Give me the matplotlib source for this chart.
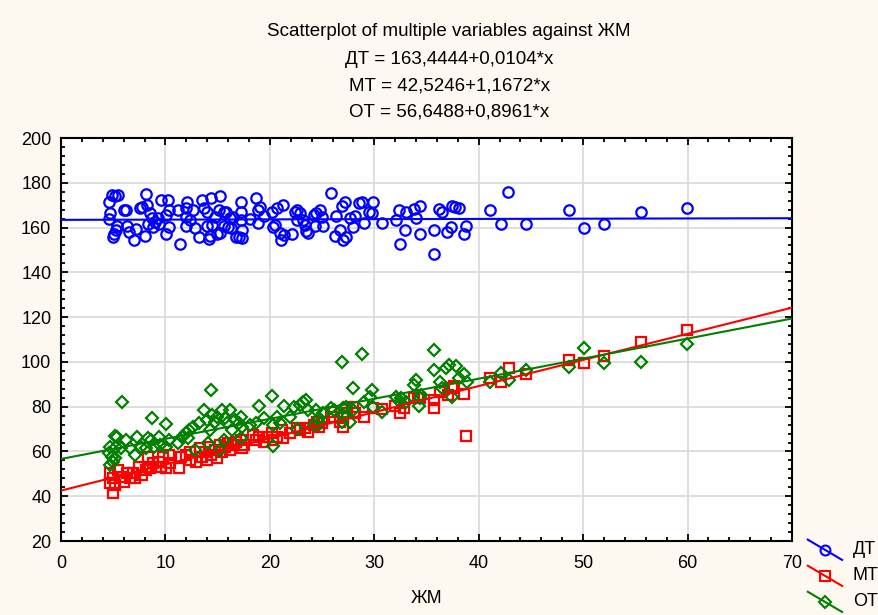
import matplotlib
matplotlib.use("Agg")
import matplotlib.pyplot as plt
from matplotlib.lines import Line2D
from matplotlib.legend_handler import HandlerBase
from matplotlib.ticker import MultipleLocator

# ==========================================================
# Data
# ==========================================================

dt_x = [4.6, 4.9, 5.2, 5.5, 4.7, 4.6, 5.0, 5.1, 5.3, 5.4, 6.0, 6.2, 6.3, 6.5, 7.0, 7.2,
        7.6, 7.8, 8.0, 8.1, 8.2, 8.3, 8.5, 8.7, 8.8, 9.0, 9.3, 9.4, 9.6, 10.2, 10.1, 10.3,
        10.3, 10.1, 11.2, 11.4, 12.0, 12.1, 12.0, 12.0, 12.4, 12.6, 12.8, 13.2, 13.5, 13.7,
        14.0, 14.0, 14.2, 14.3, 14.4, 14.5, 14.7, 14.9, 15.1, 15.2, 15.2, 15.6, 15.6, 15.8,
        16.0, 16.2, 16.3, 16.5, 16.8, 17.0, 17.2, 17.2, 17.2, 17.3, 17.3, 18.1, 18.7, 18.9,
        18.9, 19.1, 19.4, 20.2, 20.3, 20.5, 20.7, 21.0, 21.1, 21.3, 21.4, 22.1, 22.4, 22.6,
        22.6, 22.9, 23.2, 23.4, 23.5, 23.7, 24.2, 24.3, 24.4, 24.8, 25.0, 25.1, 25.9, 26.2,
        26.3, 26.7, 26.9, 27.0, 27.2, 27.3, 27.7, 28.0, 28.2, 28.5, 28.8, 29.0, 29.5, 29.8,
        29.9, 30.7, 32.1, 32.4, 32.5, 32.9, 33.0, 33.8, 34.0, 34.4, 34.4, 35.7, 35.7, 36.2,
        36.5, 37.0, 37.3, 37.4, 37.7, 38.1, 38.6, 38.8, 41.1, 42.1, 42.8, 44.5, 48.6, 50.1,
        52.0, 55.5, 59.9]
dt_y = [171.6, 174.5, 174.1, 174.5, 166.3, 163.7, 155.9, 157.0, 158.9, 160.7, 167.8, 167.8,
        160.7, 158.2, 154.4, 159.2, 168.6, 169.0, 156.2, 175.0, 170.1, 161.6, 166.4, 164.1,
        160.1, 162.6, 164.1, 161.6, 172.3, 172.3, 165.6, 167.8, 160.1, 157.1, 167.8, 152.7,
        168.6, 171.6, 164.6, 160.7, 163.4, 167.8, 159.6, 155.6, 172.3, 168.6, 160.7, 167.1,
        154.7, 156.2, 173.0, 161.1, 164.6, 157.1, 167.8, 174.1, 157.4, 167.1, 160.7, 167.1,
        160.1, 164.1, 159.6, 164.9, 155.9, 155.9, 171.6, 167.1, 163.4, 158.9, 155.2, 163.7,
        173.0, 167.8, 161.9, 169.3, 165.2, 167.1, 160.1, 161.1, 168.6, 157.4, 154.4, 170.1,
        156.7, 157.1, 167.1, 167.8, 163.4, 166.6, 163.4, 161.1, 158.6, 157.4, 165.6, 160.7,
        166.4, 167.8, 164.6, 160.7, 175.3, 156.2, 165.2, 158.9, 169.6, 154.4, 171.6, 155.9,
        164.1, 160.1, 165.2, 171.1, 171.6, 161.9, 167.1, 166.3, 171.6, 161.9, 163.4, 167.8,
        152.7, 158.9, 167.1, 168.1, 164.1, 169.8, 157.1, 158.9, 148.2, 168.1, 167.1, 158.2,
        160.1, 169.8, 169.0, 168.9, 157.1, 160.7, 167.8, 161.6, 176.0, 161.6, 167.8, 159.6,
        161.6, 167.1, 168.9]

mt_x = [5.0, 4.7, 4.7, 5.0, 5.2, 5.5, 5.8, 6.0, 6.3, 6.6, 6.9, 7.1, 7.5, 7.8, 8.1, 8.3,
        8.3, 8.5, 8.8, 9.1, 9.4, 9.6, 9.8, 10.1, 10.3, 10.4, 11.3, 11.5, 12.0, 12.4, 12.4,
        12.9, 13.3, 13.5, 13.8, 14.0, 14.2, 14.4, 14.7, 14.9, 15.2, 15.4, 15.7, 16.0, 16.2,
        16.5, 16.8, 17.2, 17.3, 17.5, 18.4, 18.7, 19.0, 19.4, 19.7, 20.2, 20.3, 20.7, 21.2,
        21.3, 21.9, 22.6, 22.9, 23.4, 23.7, 24.2, 24.7, 25.0, 24.5, 25.9, 26.1, 26.7, 27.0,
        27.0, 27.4, 28.0, 28.2, 29.0, 29.9, 30.7, 32.0, 32.5, 32.8, 33.8, 34.2, 34.4, 35.7,
        35.7, 36.3, 37.1, 37.4, 37.6, 38.6, 38.8, 41.1, 42.1, 42.9, 44.5, 48.6, 50.1, 52.0,
        55.5, 59.9]
mt_y = [41.6, 45.7, 50.2, 48.0, 45.0, 51.7, 48.7, 46.5, 50.2, 48.0, 50.2, 48.0, 53.2, 49.5,
        51.7, 53.2, 57.7, 52.5, 54.7, 53.2, 55.4, 53.2, 57.7, 52.5, 58.4, 54.7, 52.5, 57.7,
        58.4, 56.2, 59.9, 55.4, 61.4, 57.7, 59.9, 56.2, 62.1, 58.4, 60.6, 56.9, 62.9, 59.9,
        62.1, 63.6, 60.6, 62.9, 64.4, 65.1, 61.4, 62.9, 67.3, 65.1, 66.6, 64.4, 66.6, 68.1,
        65.1, 66.6, 69.6, 65.9, 68.1, 70.3, 69.6, 70.3, 68.8, 71.8, 71.1, 72.6, 73.3, 77.8,
        75.5, 73.3, 71.1, 74.8, 77.0, 80.0, 77.0, 75.5, 79.3, 78.8, 80.3, 77.0, 79.3, 83.7,
        85.2, 83.7, 83.0, 79.3, 86.7, 85.2, 88.2, 89.2, 85.5, 66.9, 92.6, 91.2, 97.1, 94.6,
        100.8, 99.6, 102.6, 109.0, 114.2]

ot_x = [5.8, 5.2, 5.4, 4.7, 4.6, 4.9, 5.0, 4.7, 5.2, 5.3, 5.7, 6.2, 6.6, 7.1, 7.3, 7.7,
        8.1, 8.3, 8.7, 8.6, 8.9, 9.4, 9.5, 10.1, 10.3, 10.1, 11.2, 11.6, 12.0, 12.3, 12.2,
        12.8, 12.6, 13.2, 13.7, 14.0, 14.3, 14.1, 14.4, 14.5, 14.7, 14.9, 15.2, 15.4, 15.6,
        15.7, 15.9, 16.2, 16.4, 16.7, 17.0, 17.2, 17.2, 17.3, 18.1, 18.7, 19.0, 19.4, 20.2,
        20.3, 20.3, 20.7, 21.0, 21.4, 21.9, 22.3, 22.6, 22.9, 23.2, 23.5, 23.7, 26.9, 28.8,
        28.0, 29.8, 29.6, 29.0, 24.4, 25.9, 26.1, 27.0, 27.3, 28.0, 27.0, 26.9, 27.7, 24.2,
        24.8, 24.7, 25.1, 29.9, 30.7, 32.1, 32.5, 32.6, 33.0, 33.8, 34.0, 34.3, 34.5, 34.4,
        35.7, 35.7, 36.3, 36.5, 36.9, 37.2, 37.4, 37.8, 38.1, 38.6, 38.9, 41.1, 42.1, 42.9,
        44.5, 48.6, 50.1, 52.0, 55.5, 59.9]
ot_y = [82.2, 66.9, 66.6, 62.1, 59.1, 57.7, 55.4, 53.9, 56.9, 62.1, 61.4, 65.1, 61.4, 58.4,
        66.3, 62.1, 61.4, 65.9, 74.8, 65.1, 62.1, 66.6, 62.9, 72.2, 65.1, 62.1, 63.6, 66.6,
        68.1, 69.6, 65.9, 60.6, 71.1, 72.6, 78.5, 74.0, 69.6, 63.6, 87.4, 76.3, 73.3, 75.5,
        60.6, 78.5, 65.1, 74.8, 72.6, 78.5, 69.6, 74.0, 72.6, 75.5, 65.9, 71.1, 71.8, 72.6,
        80.3, 74.8, 84.8, 62.4, 71.8, 75.5, 72.6, 80.3, 75.2, 80.0, 69.9, 80.7, 82.2, 83.0,
        78.5, 100.1, 103.5, 88.2, 87.4, 84.5, 82.2, 78.5, 79.3, 78.5, 79.3, 80.0, 78.5, 76.3,
        73.3, 73.3, 71.8, 72.6, 74.8, 77.0, 79.7, 77.8, 84.5, 82.2, 83.7, 82.2, 89.7, 91.9,
        80.3, 85.2, 83.7, 105.3, 96.4, 91.2, 88.2, 97.1, 98.6, 84.5, 98.2, 92.6, 94.6, 91.2,
        91.2, 94.9, 91.9, 96.4, 97.9, 106.0, 99.6, 99.8, 108.0]

# regression coefficients shown in the header
fits = {
    "ДТ": (163.4444, 0.0104),
    "МТ": (42.5246, 1.1672),
    "ОТ": (56.6488, 0.8961),
}
fit_text = {
    "ДТ": "ДТ = 163,4444+0,0104*x",
    "МТ": "МТ = 42,5246+1,1672*x",
    "ОТ": "ОТ = 56,6488+0,8961*x",
}

colors = {"ДТ": "#0000FF", "МТ": "#FF0000", "ОТ": "#008000"}
markers = {"ДТ": "o", "МТ": "s", "ОТ": "D"}
msize = {"ДТ": 7.5, "МТ": 7.5, "ОТ": 6}

x_line = [0, 70]

# ==========================================================
# Custom legend: diagonal line with a marker
# ==========================================================

class DiagHandler(HandlerBase):
    def create_artists(self, legend, orig_handle, xdescent, ydescent,
                       width, height, fontsize, trans):
        x0 = -xdescent
        x1 = -xdescent + width
        y0 = -ydescent + height * 1.1
        y1 = -ydescent - height * 0.5
        ln = Line2D([x0, x1], [y0, y1], color=orig_handle.get_color(),
                    lw=1.5, transform=trans)
        mk = Line2D([(x0 + x1) / 2], [(y0 + y1) / 2],
                    marker=orig_handle.get_marker(),
                    markersize=orig_handle.get_markersize() * 0.95,
                    mfc="none", mec=orig_handle.get_color(), mew=1.5,
                    linestyle="none", transform=trans)
        return [ln, mk]

# ==========================================================
# Plot
# ==========================================================

plt.rcParams["font.family"] = ["Liberation Sans", "DejaVu Sans"]
plt.rcParams["font.size"] = 13

fig = plt.figure(figsize=(8.79, 6.15), dpi=100, facecolor="#FEF9F0")
ax = fig.add_axes([0.0694, 0.1203, 0.8316, 0.6553])
ax.set_facecolor("white")

series = {
    "ДТ": (dt_x, dt_y),
    "МТ": (mt_x, mt_y),
    "ОТ": (ot_x, ot_y),
}

for name, (xs, ys) in series.items():
    ax.plot(xs, ys, linestyle="none", marker=markers[name],
            markersize=msize[name], mfc="none", mec=colors[name], mew=1.6,
            zorder=3)

for name in series:
    a, b = fits[name]
    ax.plot(x_line, [a + b * x for x in x_line], color=colors[name],
            lw=1.5, zorder=4)

ax.set_xlim(0, 70)
ax.set_ylim(20, 200)
ax.xaxis.set_major_locator(MultipleLocator(10))
ax.xaxis.set_minor_locator(MultipleLocator(2))
ax.yaxis.set_major_locator(MultipleLocator(20))
ax.yaxis.set_minor_locator(MultipleLocator(4))

ax.grid(True, which="major", color="#D9D9D9", lw=1.2, zorder=0)
ax.set_axisbelow(True)

ax.tick_params(which="both", direction="in", top=True, right=True,
               width=1.3, color="black")
ax.tick_params(which="major", length=5)
ax.tick_params(which="minor", length=3)
ax.tick_params(axis="x", pad=10)
ax.tick_params(axis="y", pad=7)

for sp in ax.spines.values():
    sp.set_linewidth(1.5)

ax.set_xlabel("ЖМ", labelpad=13)

# header
fig.text(0.511, 1 - 32 / 615, "Scatterplot of multiple variables against ЖМ",
         ha="center", va="center", fontsize=13.5)
for i, name in enumerate(series):
    fig.text(0.511, 1 - (60 + 26 * i) / 615, fit_text[name],
             ha="center", va="center", fontsize=13.5)

handles = [Line2D([], [], color=colors[n], marker=markers[n],
                  markersize=msize[n]) for n in series]
fig.legend(handles, list(series.keys()),
           handler_map={Line2D: DiagHandler()},
           loc="upper left", bbox_to_anchor=(0.919, 0.121),
           frameon=False, handlelength=1.9, handletextpad=0.6,
           labelspacing=0.5, borderpad=0, borderaxespad=0)

plt.savefig("out.png", dpi=100, facecolor=fig.get_facecolor())
